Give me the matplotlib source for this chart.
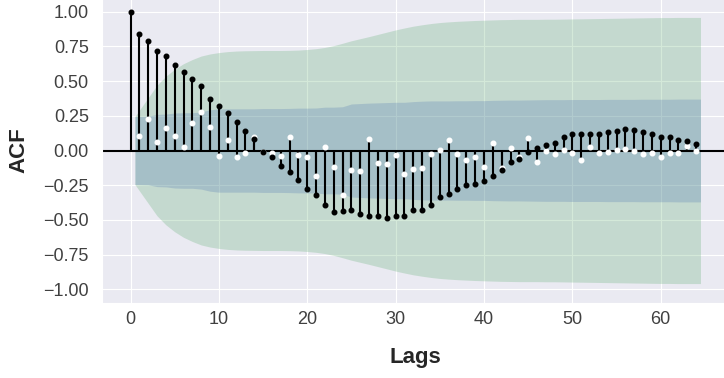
import numpy as np
import matplotlib
matplotlib.use("Agg")
import matplotlib.pyplot as plt
import seaborn as sns

sns.set_style("darkgrid")
plt.rcParams['font.family'] = ['Liberation Sans', 'DejaVu Sans']

# lags 0..64
lags = np.arange(0, 65)

acf_vals = [1.0, 0.839, 0.791, 0.717, 0.683, 0.617, 0.564, 0.514, 0.461, 0.37,
            0.32, 0.272, 0.207, 0.14, 0.083, -0.011, -0.05, -0.109, -0.157, -0.212,
            -0.277, -0.32, -0.394, -0.442, -0.433, -0.425, -0.454, -0.473, -0.473, -0.485,
            -0.469, -0.469, -0.425, -0.425, -0.394, -0.332, -0.313, -0.28, -0.246, -0.239,
            -0.217, -0.186, -0.138, -0.083, -0.059, -0.011, 0.018, 0.04, 0.054, 0.094,
            0.116, 0.121, 0.121, 0.121, 0.133, 0.142, 0.155, 0.15, 0.133, 0.116,
            0.099, 0.094, 0.078, 0.066, 0.049]

# second series (white dots), lags 1..64
pacf_vals = [0.104, 0.226, 0.058, 0.159, 0.104, 0.025, 0.198, 0.274, 0.171, -0.037,
             0.078, -0.05, -0.02, 0.094, -0.01, -0.018, -0.042, 0.097, -0.03, -0.05,
             -0.186, 0.025, -0.116, -0.32, -0.138, -0.15, 0.085, -0.09, -0.097, -0.03,
             -0.172, -0.131, -0.124, -0.023, 0.006, 0.078, -0.023, -0.066, -0.05, -0.116,
             0.051, -0.125, 0.018, -0.05, 0.092, -0.083, -0.006, -0.025, 0.001, -0.018,
             -0.066, 0.025, -0.018, -0.013, 0.003, 0.011, -0.006, -0.025, -0.018, -0.045,
             -0.018, -0.018, 0.03, -0.006]

# confidence band half widths, lags 1..64
acf_conf = [0.245, 0.38, 0.47, 0.535, 0.585, 0.625, 0.655, 0.68, 0.695, 0.705,
            0.712, 0.716, 0.718, 0.719, 0.72, 0.72, 0.72, 0.721, 0.723, 0.727,
            0.733, 0.742, 0.755, 0.772, 0.79, 0.805, 0.82, 0.836, 0.852, 0.868,
            0.882, 0.895, 0.905, 0.914, 0.921, 0.926, 0.93, 0.933, 0.936, 0.938,
            0.94, 0.942, 0.943, 0.944, 0.944, 0.944, 0.945, 0.945, 0.946, 0.947,
            0.948, 0.949, 0.95, 0.951, 0.952, 0.953, 0.954, 0.955, 0.956, 0.957,
            0.957, 0.958, 0.958, 0.958]

pacf_conf = [0.245, 0.247, 0.26, 0.262, 0.27, 0.272, 0.272, 0.278, 0.293, 0.30,
             0.30, 0.30, 0.30, 0.30, 0.302, 0.302, 0.302, 0.303, 0.305, 0.305,
             0.306, 0.312, 0.312, 0.315, 0.335, 0.338, 0.341, 0.343, 0.345, 0.347,
             0.347, 0.352, 0.355, 0.357, 0.357, 0.357, 0.358, 0.358, 0.359, 0.359,
             0.361, 0.362, 0.363, 0.363, 0.364, 0.365, 0.366, 0.366, 0.366, 0.367,
             0.367, 0.367, 0.367, 0.368, 0.368, 0.368, 0.368, 0.369, 0.369, 0.369,
             0.369, 0.37, 0.37, 0.37]

lags1 = lags[1:]
acf_conf = np.array(acf_conf)
pacf_conf = np.array(pacf_conf)

# band spans half a lag on each end
band_x = lags1.astype(float)
band_x[0] -= 0.5
band_x[-1] += 0.5

fig = plt.figure(figsize=(7.24, 3.78), dpi=100)
ax = fig.add_axes([0.1409, 0.1976, 0.866, 0.8085])

ax.fill_between(band_x, -acf_conf, acf_conf, color="#55A868", alpha=0.25, lw=0, zorder=1)
ax.fill_between(band_x, -pacf_conf, pacf_conf, color="#4C72B0", alpha=0.25, lw=0, zorder=1)

ax.vlines(lags1, 0, pacf_vals, colors="black", lw=1.5, zorder=2)
ax.vlines(lags, 0, acf_vals, colors="black", lw=1.5, zorder=2)
ax.axhline(0, color="black", lw=1.5, zorder=2)
ax.plot(lags1, pacf_vals, "o", color="white", markersize=3.3, zorder=3)
ax.plot(lags, acf_vals, "o", color="black", markersize=3.3, zorder=4)

ax.set_xlim(-3.225, 67.725)
ax.set_ylim(-1.1, 1.1)
yt = [-1.0, -0.75, -0.5, -0.25, 0.0, 0.25, 0.5, 0.75, 1.0]
ax.set_yticks(yt)
ax.set_yticklabels([("%.2f" % v).replace("-", "\u2212") for v in yt])
ax.tick_params(labelsize=13, colors="0.25")
ax.tick_params(axis="x", pad=2)
ax.tick_params(axis="y", pad=6)

ax.set_xlabel("Lags", fontsize=16, fontweight="bold", color="0.15", labelpad=14)
ax.set_ylabel("ACF", fontsize=16, fontweight="bold", color="0.15", labelpad=10)

fig.savefig("out.png", dpi=100)
